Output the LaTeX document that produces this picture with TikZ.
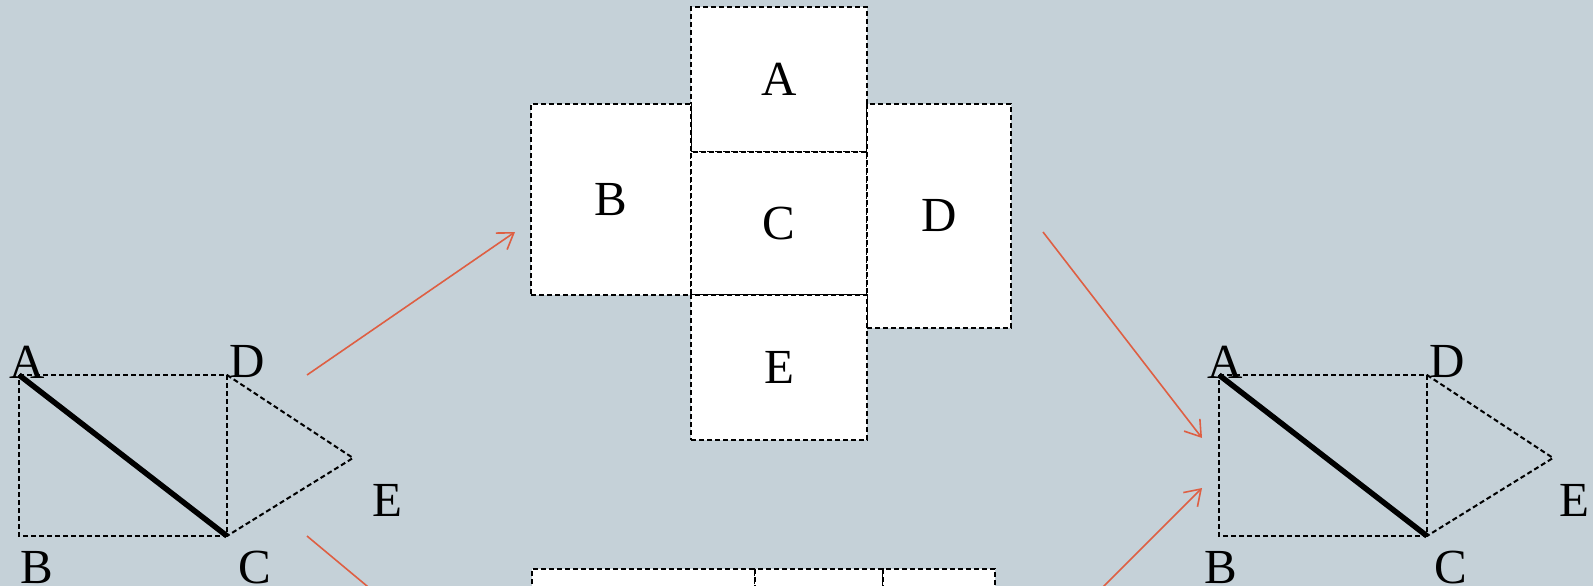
\documentclass[tikz,border=0pt]{standalone}
\usepackage{fontspec}
\setmainfont{Liberation Serif}
\usetikzlibrary{arrows.meta}
\definecolor{bgc}{HTML}{C5D1D8}
\definecolor{arr}{HTML}{DE5F43}
\begin{document}
\begin{tikzpicture}[x=1pt,y=-1pt,
  dline/.style={line width=2pt,dash pattern=on 5pt off 3pt},
  thickline/.style={line width=5.5pt},
  netbox/.style={draw,dline,fill=white,rectangle,inner sep=0pt,font=\fontsize{49}{53}\selectfont},
  lab/.style={inner sep=0pt,font=\fontsize{49}{53}\selectfont},
  arrowline/.style={draw=arr,line width=1.6pt,-{Straight Barb[length=15pt,width=20pt,line width=1.6pt]}},
  arrowlineplain/.style={draw=arr,line width=1.6pt}]
\clip (0,0) rectangle (1593,586);
\fill[bgc] (0,0) rectangle (1593,586);
% left figure
\coordinate (lA) at (19,375);
\coordinate (lD) at (227,375);
\coordinate (lB) at (19,536);
\coordinate (lC) at (227,536);
\coordinate (lE) at (353,458);
\draw[dline] (lA) -- (lD) -- (lC) -- (lB) -- cycle;
\draw[dline] (lD) -- (lE) -- (lC);
\draw[thickline] (lA) -- (lC);
\node[lab] (lAl) at (27,362) {A};
\node[lab] (lDl) at (247,362) {D};
\node[lab] (lBl) at (37,568) {B};
\node[lab] (lCl) at (255,568) {C};
\node[lab] (lEl) at (387,500) {E};
% right figure
\coordinate (rA) at (1219,375);
\coordinate (rD) at (1427,375);
\coordinate (rB) at (1219,536);
\coordinate (rC) at (1427,536);
\coordinate (rE) at (1553,458);
\draw[dline] (rA) -- (rD) -- (rC) -- (rB) -- cycle;
\draw[dline] (rD) -- (rE) -- (rC);
\draw[thickline] (rA) -- (rC);
\node[lab] (rAl) at (1225,362) {A};
\node[lab] (rDl) at (1447,362) {D};
\node[lab] (rBl) at (1221,568) {B};
\node[lab] (rCl) at (1451,568) {C};
\node[lab] (rEl) at (1574,500) {E};
% top net
\node[netbox,minimum width=176pt,minimum height=145pt] (nA) at (779,79.5) {A};
\node[netbox,minimum width=160pt,minimum height=191pt] (nB) at (611,199.5) {B};
\node[netbox,minimum width=176pt,minimum height=143pt] (nC) at (779,223.5) {C};
\node[netbox,minimum width=144pt,minimum height=224pt] (nD) at (939,216) {D};
\node[netbox,minimum width=176pt,minimum height=145pt] (nE) at (779,367.5) {E};
% bottom net (cut off)
\node[netbox,minimum width=223pt,minimum height=120pt,anchor=north west] (b1) at (531,568) {};
\node[netbox,minimum width=128pt,minimum height=120pt,anchor=north west] (b2) at (754,568) {};
\node[netbox,minimum width=112pt,minimum height=120pt,anchor=north west] (b3) at (882,568) {};
% arrows
\coordinate (a1s) at (307,375);
\coordinate (a1e) at (515,232);
\coordinate (a2s) at (307,536);
\coordinate (a2f) at (427,636);
\coordinate (a3s) at (1043,232);
\coordinate (a3e) at (1202,438);
\coordinate (a4s) at (1050,640);
\coordinate (a4e) at (1202,488);
\draw[arrowline] (a1s) -- (a1e);
\draw[arrowlineplain] (a2s) -- (a2f);
\draw[arrowline] (a3s) -- (a3e);
\draw[arrowline] (a4s) -- (a4e);
\end{tikzpicture}
\end{document}
